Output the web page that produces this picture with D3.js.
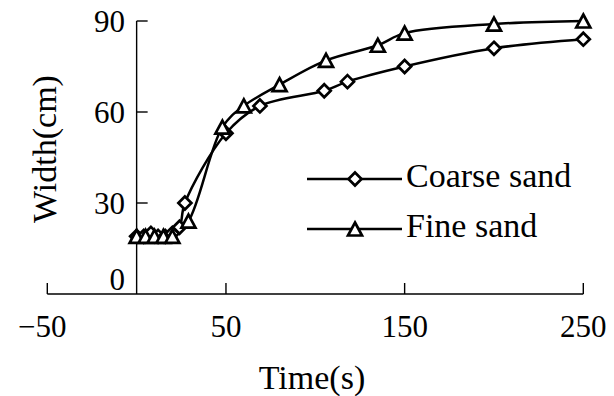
<!DOCTYPE html>
<html>
<head>
<meta charset="utf-8">
<script src="https://cdn.jsdelivr.net/npm/d3@7/dist/d3.min.js"></script>
<style>
  html, body { margin: 0; padding: 0; background: #fff; }
  svg { display: block; }
  text { font-family: "Liberation Serif", "Times New Roman", serif; fill: #000; }
</style>
</head>
<body>
<svg id="chart" width="614" height="396"></svg>
<script>
// Channel width over time for two sand types
const coarseTime  = [0, 4, 8, 12, 16, 20, 24, 27, 50, 69, 105, 118, 150, 200, 250];
const coarseWidth = [19, 19, 20, 19, 19, 20, 22, 30, 53, 62, 67, 70, 75, 81, 84];
const fineTime    = [0, 5, 10, 15, 20, 29, 48, 60, 80, 106, 135, 150, 200, 250];
const fineWidth   = [19, 19, 19, 19, 19, 24, 55, 62, 69, 77, 82, 86, 89, 90];
const seriesNames = ["Coarse sand", "Fine sand"];
const xTicks = [-50, 50, 150, 250];
const yTicks = [0, 30, 60, 90];

const svg = d3.select("#chart");
const x = d3.scaleLinear().domain([-50, 250]).range([47.3, 583.3]);
const y = d3.scaleLinear().domain([0, 90]).range([294, 21]);

const axisColor = "#000";
const tickLen = 11;

// X axis along y = 0, ticks pointing up
svg.append("line")
  .attr("x1", x(-50)).attr("x2", x(250))
  .attr("y1", y(0)).attr("y2", y(0))
  .attr("stroke", axisColor).attr("stroke-width", 1.4);
svg.selectAll(".xtick").data(xTicks).enter().append("line")
  .attr("x1", d => x(d)).attr("x2", d => x(d))
  .attr("y1", y(0)).attr("y2", y(0) - tickLen)
  .attr("stroke", axisColor).attr("stroke-width", 1.4);
svg.selectAll(".xlabel").data(xTicks).enter().append("text")
  .attr("x", d => x(d) + (d < 0 ? -5 : 0))
  .attr("y", 337)
  .attr("text-anchor", "middle")
  .attr("font-size", 31)
  .text(d => d < 0 ? "\u2212" + Math.abs(d) : d);

// Y axis at x = 0, ticks pointing right
svg.append("line")
  .attr("x1", x(0)).attr("x2", x(0))
  .attr("y1", y(0)).attr("y2", y(90))
  .attr("stroke", axisColor).attr("stroke-width", 1.4);
svg.selectAll(".ytick").data(yTicks.filter(d => d > 0)).enter().append("line")
  .attr("x1", x(0)).attr("x2", x(0) + tickLen)
  .attr("y1", d => y(d)).attr("y2", d => y(d))
  .attr("stroke", axisColor).attr("stroke-width", 1.4);
svg.selectAll(".ylabel").data(yTicks).enter().append("text")
  .attr("x", 125)
  .attr("y", d => (d === 0 ? y(d) - 15 : y(d)) + 10.5)
  .attr("text-anchor", "end")
  .attr("font-size", 31)
  .text(d => d);

// Axis titles
svg.append("text")
  .attr("x", 312).attr("y", 389)
  .attr("text-anchor", "middle")
  .attr("font-size", 34)
  .text("Time(s)");
svg.append("text")
  .attr("transform", "translate(56,149) rotate(-90)")
  .attr("text-anchor", "middle")
  .attr("font-size", 34)
  .text("Width(cm)");

// Marker shapes
function diamondPath(cx, cy) {
  const r = 6.5;
  return `M${cx},${cy - r}L${cx + r},${cy}L${cx},${cy + r}L${cx - r},${cy}Z`;
}
function trianglePath(cx, cy) {
  const w = 7, h = 6.5;
  return `M${cx},${cy - h}L${cx + w},${cy + h}L${cx - w},${cy + h}Z`;
}

const line = d3.line()
  .x(d => x(d[0])).y(d => y(d[1]))
  .curve(d3.curveCatmullRom.alpha(0.5));

const coarse = coarseTime.map((t, i) => [t, coarseWidth[i]]);
const fine = fineTime.map((t, i) => [t, fineWidth[i]]);

const series = [
  { name: seriesNames[0], data: coarse, marker: diamondPath },
  { name: seriesNames[1], data: fine, marker: trianglePath }
];

series.forEach(s => {
  svg.append("path")
    .attr("d", line(s.data))
    .attr("fill", "none")
    .attr("stroke", "#000")
    .attr("stroke-width", 2.5);
});
series.forEach(s => {
  svg.selectAll(null).data(s.data).enter().append("path")
    .attr("d", d => s.marker(x(d[0]), y(d[1])))
    .attr("fill", "#fff")
    .attr("stroke", "#000")
    .attr("stroke-width", 2.7)
    .attr("stroke-linejoin", "miter");
});

// Legend
const legendY = [179, 229];
series.forEach((s, i) => {
  const ly = legendY[i];
  svg.append("line")
    .attr("x1", 307).attr("x2", 402)
    .attr("y1", ly).attr("y2", ly)
    .attr("stroke", "#000").attr("stroke-width", 2.5);
  svg.append("path")
    .attr("d", s.marker(355, ly))
    .attr("fill", "#fff").attr("stroke", "#000").attr("stroke-width", 2.7);
  svg.append("text")
    .attr("x", 406).attr("y", ly + 8)
    .attr("font-size", 34)
    .text(s.name);
});
</script>
</body>
</html>
